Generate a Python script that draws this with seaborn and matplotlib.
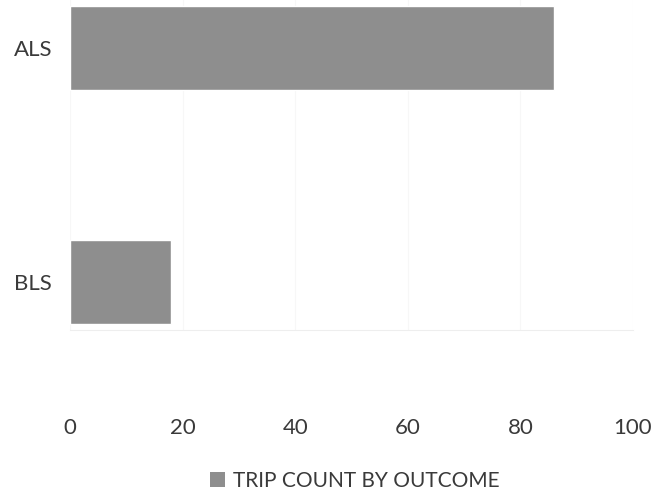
import matplotlib
matplotlib.use("Agg")
import matplotlib.pyplot as plt
import seaborn as sns
import pandas as pd
from matplotlib.patches import Patch

# Trip counts per service level
categories = ["ALS", "BLS"]
trip_counts = [86, 18]
x_ticks = [0, 20, 40, 60, 80, 100]
series_name = "TRIP COUNT BY OUTCOME"

df = pd.DataFrame({"level": categories, "count": trip_counts})

sns.set_theme(style="white")
plt.rcParams["font.family"] = ["Lato", "DejaVu Sans"]

bar_color = "#8e8e8e"
text_color = "#3a3a3a"

fig = plt.figure(figsize=(6.65, 4.94), dpi=100)
ax = fig.add_axes([70 / 665, 1 - 330 / 494, (633 - 70) / 665, 330 / 494])

sns.barplot(data=df, x="count", y="level", orient="h", color=bar_color,
            width=0.355, saturation=1, ax=ax)

ax.set_xlim(0, 100)
ax.set_ylim(1.205, -0.205)
ax.set_xticks(x_ticks)
ax.set_xticklabels([str(t) for t in x_ticks])
ax.set_xlabel("")
ax.set_ylabel("")

ax.grid(axis="x", color="#f7f7f7", linewidth=0.8)
ax.set_axisbelow(True)
for side in ["top", "right", "left"]:
    ax.spines[side].set_visible(False)
ax.spines["bottom"].set_color("#eeeeee")
ax.spines["bottom"].set_linewidth(0.8)

ax.tick_params(axis="x", length=0, pad=63, labelsize=16, labelcolor=text_color)
ax.tick_params(axis="y", length=0, pad=13, labelsize=16, labelcolor=text_color)

handle = Patch(facecolor=bar_color, edgecolor="none")
fig.legend([handle], [series_name], loc="center", bbox_to_anchor=(355 / 665, 1 - 481 / 494),
           frameon=False, fontsize=15, handlelength=0.7, handleheight=0.7,
           handletextpad=0.4, labelcolor=text_color)

fig.savefig("out.png", dpi=100)
